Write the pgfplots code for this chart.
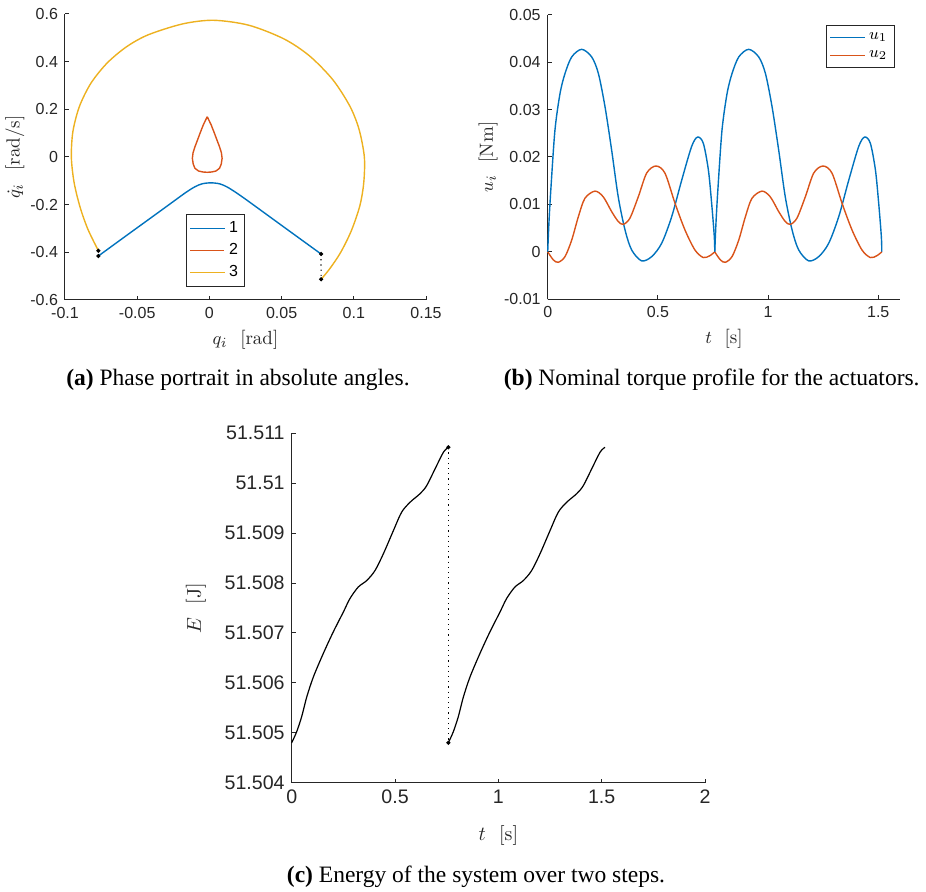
\documentclass[border=0pt]{standalone}
\usepackage{pgfplots}
\pgfplotsset{compat=1.18}
\usepackage{fontspec}
\newfontfamily\arialfont{Liberation Sans}
\newfontfamily\capfont{Liberation Serif}

\definecolor{mlblue}{rgb}{0,0.447,0.741}
\definecolor{mlorange}{rgb}{0.85,0.325,0.098}
\definecolor{mlyellow}{rgb}{0.929,0.694,0.125}
\definecolor{axgray}{rgb}{0.15,0.15,0.15}

\pgfplotsset{
  mlaxis/.style={
    scale only axis,
    axis lines=left,
    axis line style={-, axgray, line width=0.5pt},
    tick align=inside,
    major tick length=2pt,
    tick style={axgray, line width=0.5pt},
    ticklabel style={font=\arialfont\fontsize{8}{9.6}\selectfont, text=axgray},
    label style={font=\fontsize{9.5}{11}\selectfont, text=axgray},
    /pgf/number format/assume math mode=true,
    scaled ticks=false,
    clip=false,
    legend cell align=left,
    legend style={draw=axgray, fill=white, line width=0.5pt, inner sep=1.5pt},
  },
  curve/.style={line width=0.7pt, smooth, no markers},
}

\begin{document}
\begin{tikzpicture}
\useasboundingbox (0,0) rectangle (463pt,446pt);

% ---------------- (a) phase portrait ----------------
\begin{axis}[mlaxis, at={(32.5pt,296pt)}, anchor=south west,
  width=180.5pt, height=143pt,
  xmin=-0.1, xmax=0.15, ymin=-0.6, ymax=0.6,
  xtick={-0.1,-0.05,0,0.05,0.1,0.15},
  xticklabels={-0.1,-0.05,0,0.05,0.1,0.15},
  ytick={-0.6,-0.4,-0.2,0,0.2,0.4,0.6},
  yticklabels={-0.6,-0.4,-0.2,0,0.2,0.4,0.6},
  xlabel={$q_i$\ \ [rad]}, ylabel={$\dot{q}_i$\ \ [rad/s]},
  xlabel style={at={(axis description cs:0.5,-0.14)}, anchor=center},
  ylabel style={at={(axis description cs:-0.1385,0.5)}, anchor=center},
  legend style={at={(axis cs:-0.0162,-0.239)}, anchor=north west,
    font=\arialfont\fontsize{8}{9.6}\selectfont},
]
\addplot[curve, mlblue] coordinates {
  (-0.0769,-0.4155) (-0.0573,-0.329) (-0.0342,-0.2276) (-0.025,-0.187)
  (-0.016,-0.1475) (-0.010,-0.125) (-0.005,-0.1125) (0.001,-0.1085)
  (0.007,-0.1125) (0.012,-0.125) (0.018,-0.1475) (0.027,-0.1857)
  (0.050,-0.2870) (0.0773,-0.407)
};
\addlegendentry{1}
\addplot[line width=0.7pt, mlorange, no markers] coordinates {
  (-0.0015,0.169) (-0.0042,0.135) (-0.0065,0.0994) (-0.0083,0.070)
  (-0.0100,0.043) (-0.0113,0.018) (-0.0118,-0.0056) (-0.0112,-0.030)
  (-0.0100,-0.0475) (-0.0075,-0.059) (-0.0045,-0.0630) (-0.0015,-0.0643)
  (0.0015,-0.0630) (0.0045,-0.059) (0.0070,-0.0475) (0.0082,-0.030)
  (0.0088,-0.0056) (0.0083,0.018) (0.0070,0.043) (0.0053,0.070)
  (0.0035,0.0994) (0.0012,0.135) (-0.0015,0.169)
};
\addlegendentry{2}
\addplot[curve, mlyellow] coordinates {
  (-0.0769,-0.393) (-0.0841,-0.3039) (-0.0895,-0.2116) (-0.0937,-0.1071)
  (-0.0956,0) (-0.0945,0.1078) (-0.0900,0.2122) (-0.0821,0.3090)
  (-0.0710,0.3931) (-0.0576,0.4615) (-0.0425,0.5123) (-0.0184,0.5585)
  (0.0030,0.5735) (0.0274,0.5526) (0.0516,0.4955) (0.0693,0.4242)
  (0.0855,0.3239) (0.0974,0.2118) (0.1037,0.1145) (0.1073,0)
  (0.1069,-0.1075) (0.1042,-0.2044) (0.0983,-0.3094) (0.0909,-0.4004)
  (0.0835,-0.4676) (0.0774,-0.5133)
};
\addlegendentry{3}
% impact jumps
\addplot[black, dotted, line width=0.6pt, mark=*, mark size=0.7pt,
  mark options={solid}, forget plot] coordinates {(-0.0769,-0.393) (-0.0769,-0.4155)};
\addplot[black, dotted, line width=0.6pt, mark=*, mark size=0.7pt,
  mark options={solid}, forget plot] coordinates {(0.0773,-0.407) (0.0774,-0.5133)};
\end{axis}

% ---------------- (b) nominal torques ----------------
\begin{axis}[mlaxis, at={(273.85pt,296.35pt)}, anchor=south west,
  width=176.3pt, height=142.3pt,
  xmin=0, xmax=1.6, ymin=-0.01, ymax=0.05,
  xtick={0,0.5,1,1.5}, xticklabels={0,0.5,1,1.5},
  ytick={-0.01,0,0.01,0.02,0.03,0.04,0.05},
  yticklabels={-0.01,0,0.01,0.02,0.03,0.04,0.05},
  xlabel={$t$\ \ [s]}, ylabel={$u_i$\ \ [Nm]},
  xlabel style={at={(axis description cs:0.5,-0.138)}, anchor=center},
  ylabel style={at={(axis description cs:-0.169,0.5)}, anchor=center},
  legend style={at={(axis cs:1.263,0.0478)}, anchor=north west,
    font=\arialfont\fontsize{8.5}{10}\selectfont},
]
% first step
\addplot[curve, mlblue] coordinates {
  (0,0) (0.006,0.0065) (0.015,0.0137) (0.033,0.0257) (0.056,0.0334)
  (0.0785,0.0376) (0.109,0.0411) (0.154,0.0427) (0.1995,0.0411) (0.23,0.0376)
  (0.26,0.0306) (0.29,0.0215) (0.32,0.0116) (0.351,0.0046) (0.381,0.0004)
  (0.426,-0.0019) (0.472,-0.0010) (0.517,0.0018) (0.5625,0.0074) (0.608,0.0151)
  (0.653,0.0222) (0.680,0.0242) (0.706,0.0229) (0.729,0.0173) (0.744,0.0102)
  (0.756,0.0032) (0.758,0)
};
\addlegendentry{$u_1$}
\addplot[curve, mlorange] coordinates {
  (0,0) (0.0256,-0.0017) (0.048,-0.0022) (0.0785,-0.0010) (0.109,0.0025)
  (0.139,0.0074) (0.169,0.0113) (0.2146,0.0128) (0.252,0.0116) (0.290,0.0085)
  (0.320,0.0064) (0.343,0.0058) (0.373,0.0071) (0.411,0.0116) (0.449,0.0166)
  (0.491,0.0181) (0.532,0.0166) (0.578,0.0102) (0.623,0.0046) (0.668,0.0004)
  (0.706,-0.0012) (0.736,-0.0008) (0.758,0)
};
\addlegendentry{$u_2$}
% second step
\addplot[curve, mlblue, forget plot] coordinates {
  (0.758,0) (0.764,0.0065) (0.773,0.0137) (0.791,0.0257) (0.814,0.0334)
  (0.8365,0.0376) (0.867,0.0411) (0.912,0.0427) (0.9575,0.0411) (0.988,0.0376)
  (1.018,0.0306) (1.048,0.0215) (1.078,0.0116) (1.109,0.0046) (1.139,0.0004)
  (1.184,-0.0019) (1.230,-0.0010) (1.275,0.0018) (1.3205,0.0074) (1.366,0.0151)
  (1.411,0.0222) (1.438,0.0242) (1.464,0.0229) (1.487,0.0173) (1.502,0.0102)
  (1.514,0.0032) (1.516,0)
};
\addplot[curve, mlorange, forget plot] coordinates {
  (0.758,0) (0.7836,-0.0017) (0.806,-0.0022) (0.8365,-0.0010) (0.867,0.0025)
  (0.897,0.0074) (0.927,0.0113) (0.9726,0.0128) (1.010,0.0116) (1.048,0.0085)
  (1.078,0.0064) (1.101,0.0058) (1.131,0.0071) (1.169,0.0116) (1.207,0.0166)
  (1.249,0.0181) (1.290,0.0166) (1.336,0.0102) (1.381,0.0046) (1.426,0.0004)
  (1.464,-0.0012) (1.494,-0.0008) (1.516,0)
};
\end{axis}

% ---------------- (c) energy ----------------
% energy is stored in mJ above 51.5 J
\begin{axis}[mlaxis, at={(145.85pt,54.65pt)}, anchor=south west,
  width=206.65pt, height=174.7pt,
  xmin=0, xmax=2, ymin=4, ymax=11,
  xtick={0,0.5,1,1.5,2}, xticklabels={0,0.5,1,1.5,2},
  ytick={4,5,6,7,8,9,10,11},
  yticklabels={51.504,51.505,51.506,51.507,51.508,51.509,51.51,51.511},
  ticklabel style={font=\arialfont\fontsize{9.8}{11.5}\selectfont},
  label style={font=\fontsize{10}{12}\selectfont},
  xlabel={$t$\ \ [s]}, ylabel={$E$\ \ [J]},
  xlabel style={at={(axis description cs:0.5,-0.15)}, anchor=center},
  ylabel style={at={(axis description cs:-0.2316,0.5)}, anchor=center},
]
\addplot[curve, black, line width=0.6pt] coordinates {
  (0,4.80) (0.024,5.02) (0.048,5.32) (0.073,5.72) (0.105,6.12) (0.153,6.59)
  (0.201,7.02) (0.250,7.42) (0.282,7.69) (0.322,7.92) (0.363,8.05) (0.403,8.25)
  (0.444,8.59) (0.492,9.05) (0.532,9.42) (0.573,9.62) (0.621,9.79) (0.653,9.95)
  (0.694,10.29) (0.734,10.62) (0.758,10.72)
};
\addplot[curve, black, line width=0.6pt] coordinates {
  (0.758,4.80) (0.782,5.02) (0.806,5.32) (0.831,5.72) (0.863,6.12) (0.911,6.59)
  (0.959,7.02) (1.008,7.42) (1.040,7.69) (1.080,7.92) (1.121,8.05) (1.161,8.25)
  (1.202,8.59) (1.250,9.05) (1.290,9.42) (1.331,9.62) (1.379,9.79) (1.411,9.95)
  (1.452,10.29) (1.492,10.62) (1.516,10.72)
};
\addplot[black, dotted, line width=0.6pt, mark=*, mark size=0.7pt,
  mark options={solid}] coordinates {(0.758,10.72) (0.758,4.80)};
\end{axis}

% captions
\node[font=\capfont\fontsize{11.75}{14}\selectfont] at (119pt,256pt)
  {\textbf{(a)} Phase portrait in absolute angles.};
\node[font=\capfont\fontsize{11.75}{14}\selectfont] at (355.85pt,256pt)
  {\textbf{(b)} Nominal torque profile for the actuators.};
\node[font=\capfont\fontsize{11.75}{14}\selectfont] at (238pt,7.65pt)
  {\textbf{(c)} Energy of the system over two steps.};
\end{tikzpicture}
\end{document}
